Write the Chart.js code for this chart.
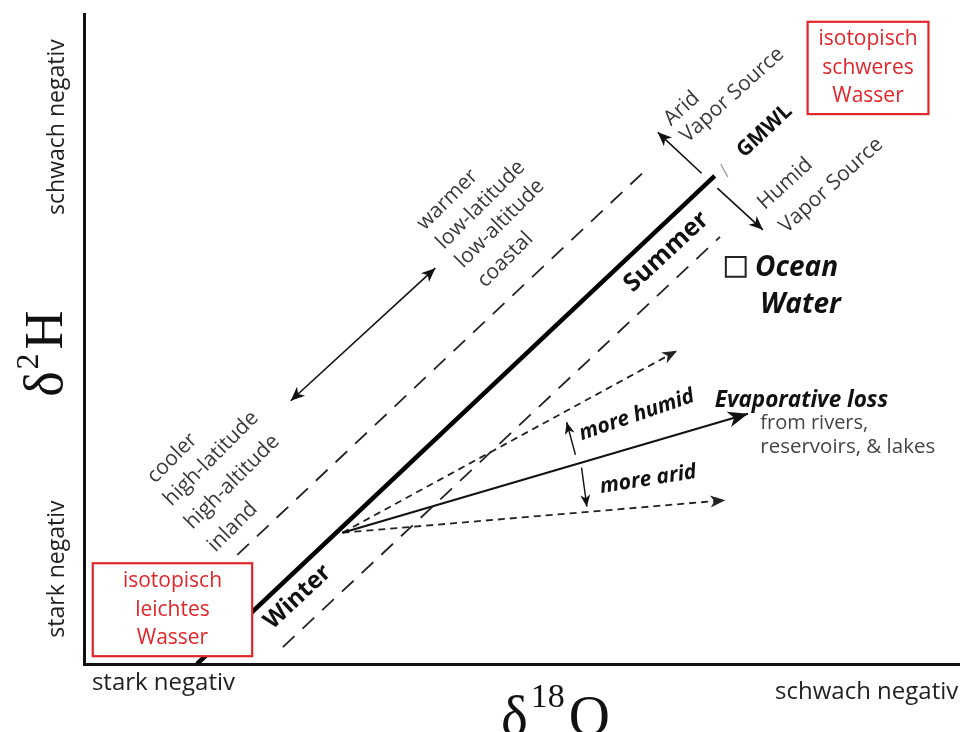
<!DOCTYPE html>
<html>
<head>
<meta charset="utf-8">
<script src="https://cdn.jsdelivr.net/npm/chart.js@4/dist/chart.umd.min.js"></script>
<style>
  html, body { margin: 0; padding: 0; background: #ffffff; }
  #wrap { width: 960px; height: 732px; position: relative; }
</style>
</head>
<body>
<div id="wrap"><canvas id="c" width="960" height="732"></canvas></div>
<script>
// Schematic δ18O / δ2H diagram (axes in relative units, 0 = strongly negative, 100 = weakly negative)

// Global meteoric water line and its parallel envelope
const gmwl       = [{x: 12.9, y: 0.0},  {x: 72.0, y: 75.1}];
const upperBound = [{x: 17.5, y: 16.8}, {x: 64.6, y: 76.6}];
const lowerBound = [{x: 22.7, y: 2.6},  {x: 72.6, y: 65.7}];

// Evaporation trends starting on the GMWL
const evapMain   = [{x: 29.5, y: 20.2}, {x: 75.8, y: 38.5}];
const evapHumid  = [{x: 29.5, y: 20.2}, {x: 67.7, y: 48.2}];
const evapArid   = [{x: 29.5, y: 20.2}, {x: 73.2, y: 25.2}];

// Small direction arrows
const climateArrow   = [{x: 23.6, y: 40.5}, {x: 40.1, y: 60.9}];
const aridSource     = [{x: 70.5, y: 75.5}, {x: 65.5, y: 81.8}];
const humidSource    = [{x: 72.3, y: 73.2}, {x: 77.5, y: 66.8}];
const moreHumidArrow = [{x: 56.1, y: 32.2}, {x: 55.1, y: 37.2}];
const moreAridArrow  = [{x: 56.8, y: 30.2}, {x: 57.4, y: 24.2}];
const gmwlTick       = [{x: 72.7, y: 76.9}, {x: 73.5, y: 74.9}];

// Ocean water reference point
const oceanWater = [{x: 74.4, y: 61.1}];

const FONT = '"Open Sans", "Noto Sans", sans-serif';
const SERIF = '"Liberation Serif", "DejaVu Serif", serif';

// Text placed in data space: [text, x, y, rotation°, font, color, align, baseline]
const labels = [
  ['warmer',        38.9, 66.6, -45, '21px ' + FONT, '#3a3a3a', 'left', 'alphabetic'],
  ['low-latitude',  41.1, 63.7, -45, '21px ' + FONT, '#3a3a3a', 'left', 'alphabetic'],
  ['low-altitude',  43.3, 60.8, -45, '21px ' + FONT, '#3a3a3a', 'left', 'alphabetic'],
  ['coastal',       45.8, 57.8, -45, '21px ' + FONT, '#3a3a3a', 'left', 'alphabetic'],
  ['cooler',         8.1, 27.7, -45, '21px ' + FONT, '#3a3a3a', 'left', 'alphabetic'],
  ['high-latitude', 10.0, 24.2, -45, '21px ' + FONT, '#3a3a3a', 'left', 'alphabetic'],
  ['high-altitude', 12.4, 20.6, -45, '21px ' + FONT, '#3a3a3a', 'left', 'alphabetic'],
  ['inland',        15.0, 17.1, -45, '21px ' + FONT, '#3a3a3a', 'left', 'alphabetic'],
  ['Arid',          67.0, 82.7, -42, '21px ' + FONT, '#3a3a3a', 'left', 'alphabetic'],
  ['Vapor Source',  68.9, 80.1, -42, '21px ' + FONT, '#3a3a3a', 'left', 'alphabetic'],
  ['Humid',         77.7, 69.8, -42, '21px ' + FONT, '#3a3a3a', 'left', 'alphabetic'],
  ['Vapor Source',  80.2, 66.2, -42, '21px ' + FONT, '#3a3a3a', 'left', 'alphabetic'],
  ['GMWL',          77.7, 82.0, -43, 'bold 21px ' + FONT, '#111', 'center', 'middle'],
  ['Summer',        66.5, 63.4, -43, 'bold 25px ' + FONT, '#111', 'center', 'middle'],
  ['Winter',        24.4, 10.3, -43, 'bold 24px ' + FONT, '#111', 'center', 'middle'],
  ['Ocean',         76.6, 60.9,   0, 'italic bold 28px ' + FONT, '#111', 'left', 'middle'],
  ['Water',         77.2, 55.3,   0, 'italic bold 28px ' + FONT, '#111', 'left', 'middle'],
  ['more humid',    63.1, 38.3, -19, 'italic bold 21px ' + FONT, '#111', 'center', 'middle'],
  ['more arid',     64.4, 28.4,  -9, 'italic bold 21px ' + FONT, '#111', 'center', 'middle'],
  ['Evaporative loss',    72.0, 40.6, 0, 'italic bold 22.5px ' + FONT, '#111', 'left', 'middle'],
  ['from rivers,',        77.2, 37.0, 0, '20px ' + FONT, '#444', 'left', 'middle'],
  ['reservoirs, & lakes', 77.2, 33.3, 0, '20.5px ' + FONT, '#444', 'left', 'middle'],
  ['stark negativ',    0.9,  -2.9,   0, '24px ' + FONT, '#222', 'left', 'middle'],
  ['schwach negativ', 99.8,  -4.3,   0, '24px ' + FONT, '#222', 'right', 'middle'],
  ['schwach negativ', -3.0,  82.6, -90, '23px ' + FONT, '#222', 'center', 'middle'],
  ['stark negativ',   -3.0,  14.6, -90, '23px ' + FONT, '#222', 'center', 'middle']
];

// Red boxed notes: [lines, x0, y0, x1, y1]
const boxes = [
  [['isotopisch', 'schweres', 'Wasser'], 82.6, 98.8, 96.4, 84.6],
  [['isotopisch', 'leichtes', 'Wasser'],  1.0, 15.5, 19.2,  1.2]
];

function line(data, opts) {
  return Object.assign({
    data: data, showLine: true, pointRadius: 0, pointHoverRadius: 0,
    borderColor: '#111', borderWidth: 2, fill: false, tension: 0
  }, opts);
}

const datasets = [
  line(gmwl,       {borderWidth: 4.5, borderColor: '#000', borderCapStyle: 'butt'}),
  line(upperBound, {borderDash: [16, 11], borderWidth: 1.8, borderColor: '#222'}),
  line(lowerBound, {borderDash: [16, 11], borderWidth: 1.8, borderColor: '#222'}),
  line(evapMain,   {borderWidth: 2, arrow: {end: true, len: 20, half: 8}}),
  line(evapHumid,  {borderDash: [7, 5], borderWidth: 1.8, borderColor: '#222', arrow: {end: true, len: 15, half: 6}}),
  line(evapArid,   {borderDash: [7, 5], borderWidth: 1.8, borderColor: '#222', arrow: {end: true, len: 15, half: 6}}),
  line(climateArrow,   {borderWidth: 1.6, arrow: {end: true, start: true, len: 14, half: 6}}),
  line(aridSource,     {borderWidth: 1.6, arrow: {end: true, len: 14, half: 6}}),
  line(humidSource,    {borderWidth: 1.6, arrow: {end: true, len: 14, half: 6}}),
  line(moreHumidArrow, {borderWidth: 1.4, arrow: {end: true, len: 12, half: 5}}),
  line(moreAridArrow,  {borderWidth: 1.4, arrow: {end: true, len: 12, half: 5}}),
  line(gmwlTick,       {borderWidth: 1.2, borderColor: '#999'}),
  {
    data: oceanWater, showLine: false, pointStyle: 'rect', pointRadius: 14,
    pointHoverRadius: 14, pointBackgroundColor: '#fff', pointBorderColor: '#222',
    pointBorderWidth: 2
  }
];

function arrowHead(ctx, tip, from, len, half, color) {
  const dx = tip.x - from.x, dy = tip.y - from.y;
  const d = Math.hypot(dx, dy) || 1;
  const ux = dx / d, uy = dy / d, nx = -uy, ny = ux;
  const bx = tip.x - ux * len, by = tip.y - uy * len;
  const mx = tip.x - ux * len * 0.72, my = tip.y - uy * len * 0.72;
  ctx.save();
  ctx.setLineDash([]);
  ctx.fillStyle = color;
  ctx.beginPath();
  ctx.moveTo(tip.x, tip.y);
  ctx.lineTo(bx + nx * half, by + ny * half);
  ctx.lineTo(mx, my);
  ctx.lineTo(bx - nx * half, by - ny * half);
  ctx.closePath();
  ctx.fill();
  ctx.restore();
}

const decorations = {
  id: 'decorations',
  afterDatasetsDraw(chart) {
    const ctx = chart.ctx;
    const xs = chart.scales.x, ys = chart.scales.y;
    const P = (p) => ({x: xs.getPixelForValue(p.x), y: ys.getPixelForValue(p.y)});

    // arrow heads
    chart.data.datasets.forEach((ds) => {
      if (!ds.arrow) return;
      const a = P(ds.data[0]), b = P(ds.data[ds.data.length - 1]);
      if (ds.arrow.end) arrowHead(ctx, b, a, ds.arrow.len, ds.arrow.half, ds.borderColor);
      if (ds.arrow.start) arrowHead(ctx, a, b, ds.arrow.len, ds.arrow.half, ds.borderColor);
    });

    // red note boxes
    boxes.forEach(([lines, x0, y0, x1, y1]) => {
      const l = xs.getPixelForValue(x0), r = xs.getPixelForValue(x1);
      const t = ys.getPixelForValue(y0), b = ys.getPixelForValue(y1);
      ctx.save();
      ctx.fillStyle = '#fff';
      ctx.fillRect(l, t, r - l, b - t);
      ctx.strokeStyle = '#e0262b';
      ctx.lineWidth = 2.2;
      ctx.strokeRect(l, t, r - l, b - t);
      ctx.fillStyle = '#e0262b';
      ctx.font = '21px ' + FONT;
      ctx.textAlign = 'center';
      ctx.textBaseline = 'middle';
      const step = 28.5, cy = (t + b) / 2, cx = (l + r) / 2;
      lines.forEach((s, i) => ctx.fillText(s, cx, cy + (i - 1) * step));
      ctx.restore();
    });

    // free text labels
    labels.forEach(([txt, x, y, rot, font, color, align, base]) => {
      const p = P({x, y});
      ctx.save();
      ctx.translate(p.x, p.y);
      ctx.rotate(rot * Math.PI / 180);
      ctx.font = font;
      ctx.fillStyle = color;
      ctx.textAlign = align;
      ctx.textBaseline = base;
      ctx.fillText(txt, 0, 0);
      ctx.restore();
    });

    // axis symbols: δ18O (bottom) and δ2H (left, vertical)
    ctx.save();
    ctx.fillStyle = '#111';
    ctx.textBaseline = 'alphabetic';
    ctx.textAlign = 'left';
    let p = P({x: 47.6, y: -10.9});
    ctx.font = '57px ' + SERIF;
    ctx.fillText('δ', p.x, p.y);
    let w = ctx.measureText('δ').width;
    ctx.font = '34px ' + SERIF;
    ctx.fillText('18', p.x + w + 3, p.y - 28);
    let w2 = ctx.measureText('18').width;
    ctx.font = '57px ' + SERIF;
    ctx.fillText('O', p.x + w + 3 + w2 + 4, p.y);

    p = P({x: -2.5, y: 41.1});
    ctx.translate(p.x, p.y);
    ctx.rotate(-Math.PI / 2);
    ctx.font = '54px ' + SERIF;
    ctx.fillText('δ', 0, 0);
    w = ctx.measureText('δ').width;
    ctx.font = '32px ' + SERIF;
    ctx.fillText('2', w + 2, -24);
    w2 = ctx.measureText('2').width;
    ctx.font = '54px ' + SERIF;
    ctx.fillText('H', w + 2 + w2 + 4, 0);
    ctx.restore();
  }
};

const axisCommon = {
  type: 'linear',
  min: 0,
  max: 100,
  ticks: {display: false},
  grid: {display: false, drawTicks: false},
  border: {display: true, color: '#111', width: 3}
};

new Chart(document.getElementById('c'), {
  type: 'scatter',
  data: {datasets},
  options: {
    responsive: false,
    animation: false,
    events: [],
    layout: {autoPadding: false, padding: {left: 84, right: 0, top: 14, bottom: 68}},
    plugins: {legend: {display: false}, tooltip: {enabled: false}},
    scales: {
      x: Object.assign({}, axisCommon, {position: 'bottom'}),
      y: Object.assign({}, axisCommon, {position: 'left'})
    }
  },
  plugins: [decorations]
});
</script>
</body>
</html>
